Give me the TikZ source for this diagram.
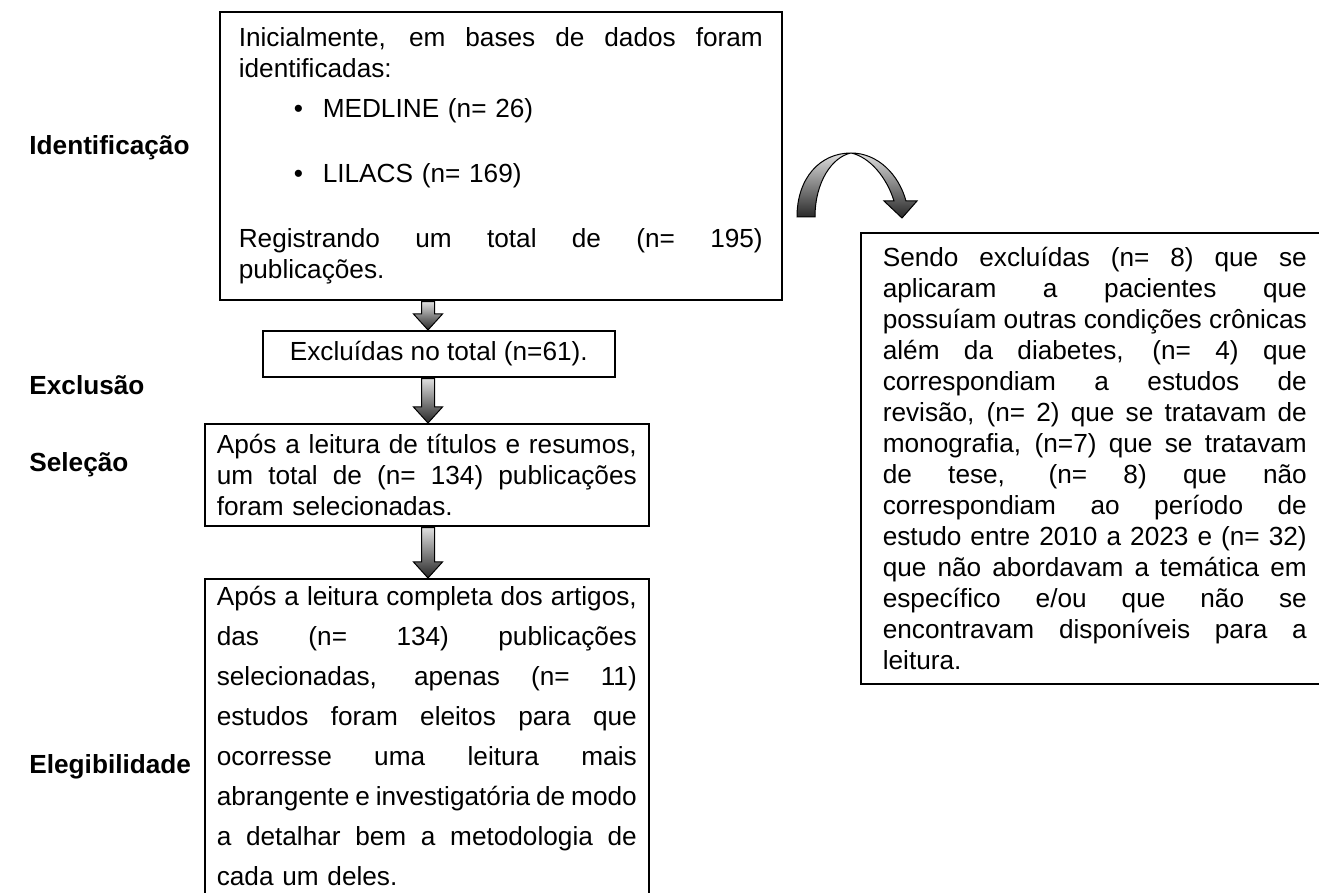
\documentclass[tikz,border=0pt]{standalone}
\usepackage{fontspec}
\setmainfont{Liberation Sans}
\usetikzlibrary{calc}

% linha justificada: os espacos repartem a sobra ate a largura da caixa
\newlength\jw
\newcommand\jline[1]{%
  \leavevmode\hbox to \jw{\spaceskip=0.278em plus 1fil minus 0.15em\relax #1}\\}
\newcommand\bitem[1]{\makebox[42pt][l]{\hspace{27.5pt}\textbullet}#1}

\begin{document}
\begin{tikzpicture}[
  x=0.5pt,
  y=-0.5pt,
  every node/.style={font=\fontsize{13.1pt}{15.5pt}\selectfont},
  box/.style={draw, line width=0.8pt, anchor=north west, align=left,
              inner xsep=8pt, inner ysep=5pt},
  jbox/.style={box, text width=#1,
               execute at begin node={\setlength\jw{#1}}},
  stage/.style={anchor=west, inner sep=0pt,
                font=\fontsize{13.1pt}{15.5pt}\selectfont\bfseries},
  blockarrow/.style={draw=black, line width=0.5pt,
                     top color=gray!25, bottom color=black!85}
]
  \clip (0,0) rectangle (1319,893);

  %% ---- etapas, coluna da esquerda ------------------------------------
  \node[stage] (lident) at (29,148) {Identificação};
  \node[stage] (lexcl)  at (29,385) {Exclusão};
  \node[stage] (lselec) at (29,465) {Seleção};
  \node[stage] (lelegi) at (29,767) {Elegibilidade};

  %% ---- caixas do fluxo ------------------------------------------------
  \node[jbox=262pt, inner xsep=9.5pt, minimum height=144pt]
    (ident) at (219,11) {%
    \jline{Inicialmente, em bases de dados foram}
    identificadas:\\[4.5pt]
    \bitem{MEDLINE (n= 26)}\\[17pt]
    \bitem{LILACS (n= 169)}\\[17pt]
    \jline{Registrando um total de (n= 195)}
    publicações.};

  \node[box, align=center, inner xsep=0pt, minimum width=176pt,
        minimum height=23pt] (excl) at (262,330)
    {Excluídas no total (n=61).};

  \node[jbox=210pt, inner xsep=6pt, minimum height=51pt]
    (selec) at (204,423) {%
    \jline{Após a leitura de títulos e resumos,}
    \jline{um total de (n= 134) publicações}
    foram selecionadas.};

  % espaco entre linhas maior nesta caixa
  \node[jbox=210pt, inner xsep=6pt, inner ysep=3.5pt,
        font=\fontsize{13.1pt}{20pt}\selectfont]
    (elegi) at (204,578) {%
    \jline{Após a leitura completa dos artigos,}
    \jline{das (n= 134) publicações}
    \jline{selecionadas, apenas (n= 11)}
    \jline{estudos foram eleitos para que}
    \jline{ocorresse uma leitura mais}
    \jline{abrangente e investigatória de modo}
    \jline{a detalhar bem a metodologia de}
    cada um deles.\\[-8pt]\mbox{}};

  % caixa das exclusoes (passa da borda direita)
  \node[jbox=212pt, inner xsep=11pt, minimum height=225.5pt]
    (descarte) at (860,232) {%
    \jline{Sendo excluídas (n= 8) que se}
    \jline{aplicaram a pacientes que}
    \jline{possuíam outras condições crônicas}
    \jline{além da diabetes, (n= 4) que}
    \jline{correspondiam a estudos de}
    \jline{revisão, (n= 2) que se tratavam de}
    \jline{monografia, (n=7) que se tratavam}
    \jline{de tese, (n= 8) que não}
    \jline{correspondiam ao período de}
    \jline{estudo entre 2010 a 2023 e (n= 32)}
    \jline{que não abordavam a temática em}
    \jline{específico e/ou que não se}
    \jline{encontravam disponíveis para a}
    leitura.};

  %% ---- setas grossas entre as caixas ----------------------------------
  \coordinate (eixo) at (428,0);
  \foreach \a/\b in {ident/excl, excl/selec, selec/elegi}
    \path[blockarrow] let \p1=($(\a.south -| eixo)+(0,1)$),
                          \p2=(\b.north -| eixo) in
      ({\x1-3.25pt},\y1) -- ({\x1+3.25pt},\y1)
      -- ({\x1+3.25pt},{\y2+8pt}) -- ({\x1+7.25pt},{\y2+8pt})
      -- (\x2,\y2)
      -- ({\x1-7.25pt},{\y2+8pt}) -- ({\x1-3.25pt},{\y2+8pt}) -- cycle;

  %% ---- seta curva para a caixa da direita -----------------------------
  \path[blockarrow]
    (797,217) .. controls (797,178) and (820,153) .. (851,153)
    .. controls (878,153) and (899,175) .. (906,201)
    -- (917,201) -- (902,218) -- (884,201) -- (894,201)
    .. controls (887,178) and (870,157) .. (851,153)
    .. controls (832,157) and (815,182) .. (815,217) -- cycle;

\end{tikzpicture}
\end{document}
